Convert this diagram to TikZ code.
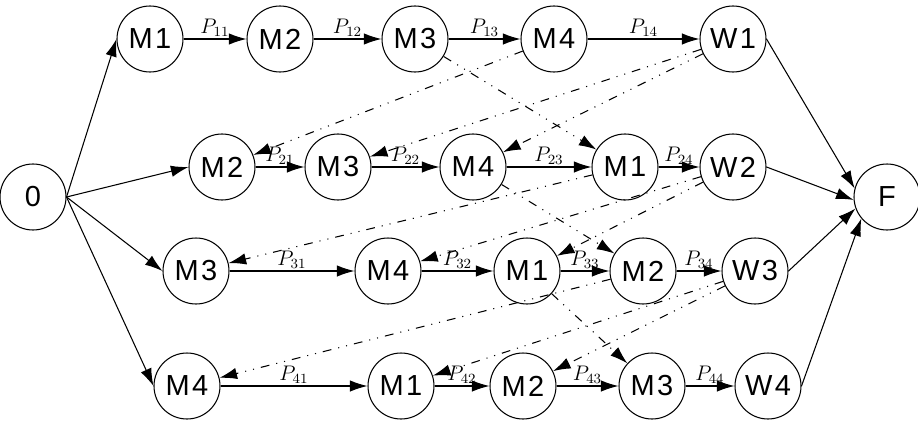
\documentclass[tikz,border=0pt]{standalone}
\usepackage{fontspec}
\setmainfont{Liberation Sans}
\newfontfamily\opfont{Liberation Sans}[LetterSpace=8]
\usetikzlibrary{arrows.meta}

\begin{document}
\begin{tikzpicture}[
		opnode/.style={draw,circle,minimum size=1.32cm,inner sep=0pt,line width=0.6pt,
			font=\opfont\fontsize{16.5}{18}\selectfont},
		conj/.style={-{Latex[length=10pt,width=6.5pt]},line width=0.6pt},
		disj/.style={conj,dash pattern=on 5pt off 4pt on 0.6pt off 4pt on 0.6pt off 4pt},
		lbl/.style={midway,above,inner sep=1pt,font=\fontsize{12}{14}\selectfont}]
			\useasboundingbox (0,0) rectangle (18.36,8.42);

			\node[opnode] (o)   at (0.66 , 4.48)  {0};
			\node[opnode] (f)   at (17.74, 4.48)  {F};
			% job 1
			\node[opnode] (n11) at (3.00 , 7.64)  {M1};
			\node[opnode] (n12) at (5.60 , 7.64)  {M2};
			\node[opnode] (n13) at (8.30 , 7.64)  {M3};
			\node[opnode] (n14) at (11.08, 7.64)  {M4};
			\node[opnode] (n15) at (14.66, 7.64)  {W1};
			% job 2
			\node[opnode] (n21) at (4.44 , 5.08)  {M2};
			\node[opnode] (n22) at (6.76 , 5.08)  {M3};
			\node[opnode] (n23) at (9.46 , 5.08)  {M4};
			\node[opnode] (n24) at (12.50, 5.08)  {M1};
			\node[opnode] (n25) at (14.66, 5.08)  {W2};
			% job 3
			\node[opnode] (n31) at (3.92 , 3.00)  {M3};
			\node[opnode] (n32) at (7.76 , 3.00)  {M4};
			\node[opnode] (n33) at (10.54, 3.00)  {M1};
			\node[opnode] (n34) at (12.86, 3.00)  {M2};
			\node[opnode] (n35) at (15.10, 3.00)  {W3};
			% job 4
			\node[opnode] (n41) at (3.74 , 0.70)  {M4};
			\node[opnode] (n42) at (8.02 , 0.70)  {M1};
			\node[opnode] (n43) at (10.46, 0.70)  {M2};
			\node[opnode] (n44) at (13.04, 0.70)  {M3};
			\node[opnode] (n45) at (15.36, 0.70)  {W4};

			\foreach \v in {n11,n21,n31,n41}
			{	\draw[conj] (o.east) -- (\v.west);
			}
			\foreach \u\a in {n15/165, n25/185, n35/200, n45/220}
			{	\draw[conj] (\u.east) -- (f.\a);
			}
			\def\jobs {n11/n12/11, n12/n13/12, n13/n14/13, n14/n15/14,
				n21/n22/21, n22/n23/22, n23/n24/23, n24/n25/24,
				n31/n32/31, n32/n33/32, n33/n34/33, n34/n35/34,
				n41/n42/41, n42/n43/42, n43/n44/43, n44/n45/44}  % label above edge
			\foreach \u\v\idx in \jobs
			{	\draw[conj] (\u) -- (\v) node [lbl] {$P_{\idx}$};
			}
			\def\swaps {n13/n24, n14/n21, n15/n22, n15/n23,
				n23/n34, n24/n31, n25/n32, n25/n33,
				n33/n44, n34/n41, n35/n42, n35/n43}  % dash-dotted, row to row below
			\foreach \u\v in \swaps
			{	\draw[disj] (\u) -- (\v);
			}
		\end{tikzpicture}
\end{document}
